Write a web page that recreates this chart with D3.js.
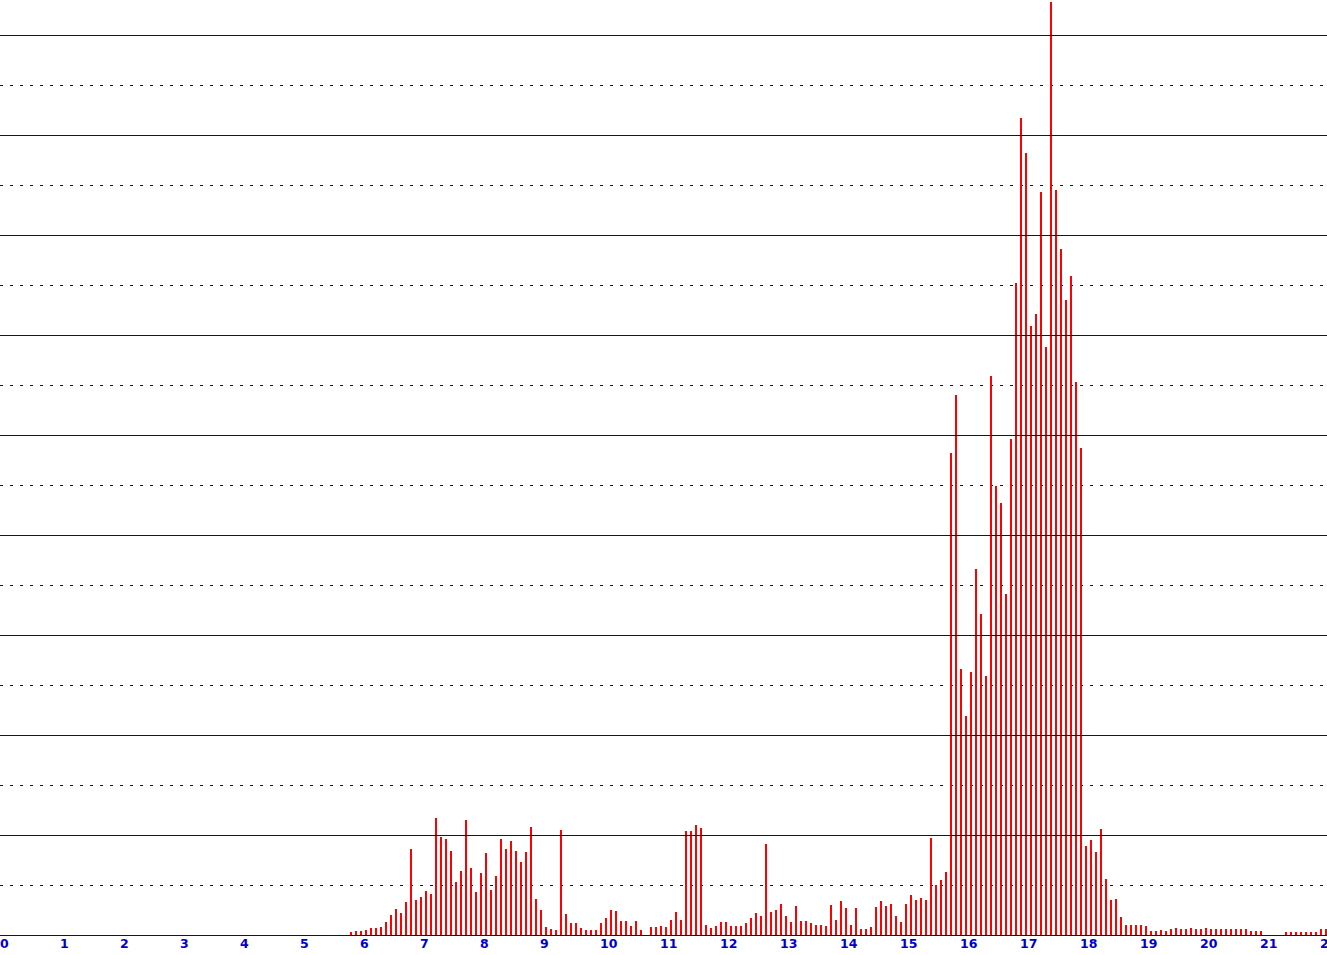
<!DOCTYPE html>
<html>
<head>
<meta charset="utf-8">
<script src="https://cdn.jsdelivr.net/npm/d3@7"></script>
<style>
  html, body { margin: 0; padding: 0; background: #ffffff; overflow: hidden; }
  svg { display: block; }
</style>
</head>
<body>
<svg id="chart" width="1327" height="955"></svg>
<script>
// ---- data ----
const binsPerUnit = 12;        // histogram bin width = 1/12 unit
const firstBin = 70;           // index of the first bin shown
const counts = [
  0.7, 0.9, 0.9, 1.1, 1.5, 1.5, 1.7, 2.7, 4.1, 5.3,        // 70-79
  4.5, 6.7, 17.3, 7.1, 7.7, 8.9, 8.3, 23.5, 19.7, 19.3,    // 80-89
  16.9, 10.7, 12.9, 23.1, 13.5, 8.7, 12.5, 16.5, 9.1, 11.9,// 90-99
  19.3, 17.3, 18.9, 16.9, 14.7, 16.7, 21.7, 7.3, 5.1, 1.7, // 100-109
  1.3, 1.1, 21.1, 4.3, 2.5, 2.5, 1.5, 1.1, 1.1, 1.1,       // 110-119
  2.5, 3.5, 5.1, 4.9, 2.9, 2.9, 1.9, 2.9, 1.1, 0,          // 120-129
  1.7, 1.7, 1.9, 1.7, 3.1, 4.7, 3.1, 20.9, 20.9, 22.1,     // 130-139
  21.5, 2.1, 1.5, 1.9, 2.7, 2.7, 1.9, 1.9, 1.9, 2.5,       // 140-149
  3.5, 4.5, 3.9, 18.3, 4.7, 5.1, 6.3, 3.9, 2.7, 5.9,       // 150-159
  2.9, 2.9, 2.5, 2.1, 2.1, 1.9, 6.1, 3.1, 6.9, 5.5,        // 160-169
  2.1, 5.5, 1.3, 1.3, 1.7, 5.7, 6.9, 5.9, 6.3, 3.9,        // 170-179
  2.7, 6.3, 8.1, 7.1, 7.5, 7.1, 19.5, 10.1, 11.1, 12.6,    // 180-189
  96.4, 108, 53.2, 43.8, 52.6, 73.2, 64.2, 51.8, 111.8, 89.8, // 190-199
  86.4, 68.2, 99.2, 130.4, 163.4, 156.4, 121.8, 124.2, 148.6, 117.6, // 200-209
  186.6, 149, 137.2, 127, 131.8, 110.6, 97.4, 17.9, 19.1, 16.7, // 210-219
  21.3, 11.3, 7.1, 7.3, 3.7, 2.1, 2.1, 2.1, 2.1, 1.9,      // 220-229
  0.9, 0.9, 1.1, 0.9, 1.3, 1.5, 1.3, 1.3, 1.5, 1.3,        // 230-239
  1.3, 1.5, 1.3, 1.3, 1.3, 1.3, 1.3, 1.3, 1.3, 1.3,        // 240-249
  0.9, 0.9, 0.9, 0, 0, 0, 0, 0.7, 0.7, 0.7,                // 250-259
  0.7, 0.7, 0.7, 0.7, 1.3, 1.3                             // 260-265
];
const xTickLabels = d3.range(0, 23);        // 0 .. 22
const solidGridValues = d3.range(0, 181, 20); // 0 (baseline) .. 180
const dashedGridValues = d3.range(10, 180, 20);

// ---- layout ----
const W = 1327, H = 955;
const gridColor = "#0000cc";
const barColor = "#ff0000";

const x = d3.scaleLinear().domain([0, 22]).range([0, 1320]);
const y = d3.scaleLinear().domain([0, 180]).range([935, 35]);

const svg = d3.select("#chart");
svg.append("rect").attr("width", W).attr("height", H).attr("fill", "#ffffff");

// dashed grid lines
svg.append("g").selectAll("line").data(dashedGridValues).join("line")
  .attr("x1", 0).attr("x2", W)
  .attr("y1", d => Math.round(y(d)) + 0.5).attr("y2", d => Math.round(y(d)) + 0.5)
  .attr("stroke", gridColor).attr("stroke-width", 1)
  .attr("stroke-dasharray", "3,7")
  .attr("shape-rendering", "crispEdges");

// bars
const bars = counts.map((v, i) => ({ bin: firstBin + i, v }));
svg.append("g").selectAll("rect").data(bars.filter(d => d.v > 0)).join("rect")
  .attr("x", d => x(d.bin / binsPerUnit))
  .attr("width", 2)
  .attr("y", d => y(d.v))
  .attr("height", d => y(0) - y(d.v))
  .attr("fill", barColor)
  .attr("shape-rendering", "crispEdges");

// solid grid lines (incl. baseline)
svg.append("g").selectAll("line").data(solidGridValues).join("line")
  .attr("x1", 0).attr("x2", W)
  .attr("y1", d => Math.round(y(d)) + 0.5).attr("y2", d => Math.round(y(d)) + 0.5)
  .attr("stroke", gridColor).attr("stroke-width", 1)
  .attr("shape-rendering", "crispEdges");

// x axis labels
svg.append("g").selectAll("text").data(xTickLabels).join("text")
  .attr("x", d => x(d))
  .attr("y", 948)
  .attr("text-anchor", "start")
  .attr("fill", gridColor)
  .attr("font-family", "DejaVu Sans, Verdana, sans-serif")
  .attr("font-weight", "bold")
  .attr("font-size", "12.5px")
  .text(d => d);
</script>
</body>
</html>
